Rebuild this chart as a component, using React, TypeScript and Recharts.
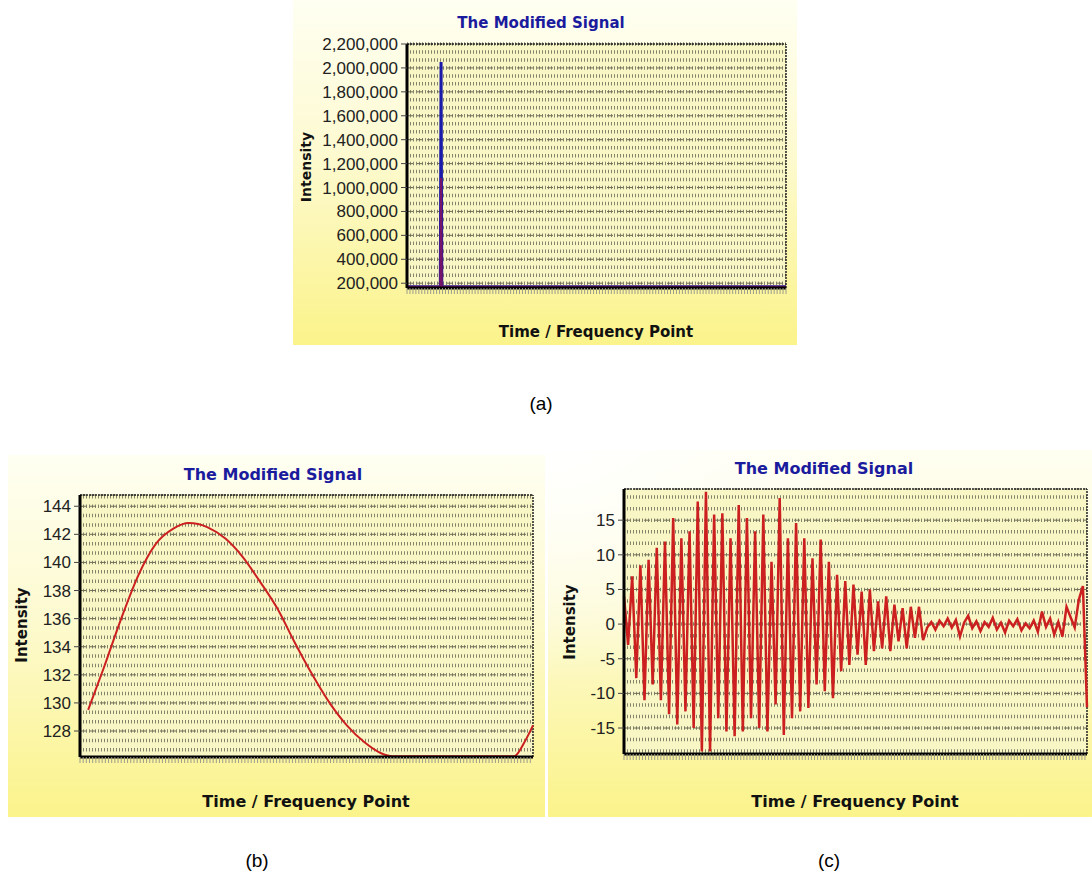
import React from "react";
import { LineChart, Line, XAxis, YAxis, CartesianGrid, ReferenceLine } from "recharts";

// (a) single spike near the start
const spikeX = [0, 45, 46, 47, 512];
const spikeBlue = [170000, 170000, 2050000, 170000, 170000];
const spikeRed = [170000, 170000, 1080000, 170000, 170000];
const ticksA = [200000, 400000, 600000, 800000, 1000000, 1200000, 1400000, 1600000, 1800000, 2000000, 2200000];

// (b) slow wave
const waveBX = [1.8, 5.2, 9.1, 12.9, 16.7, 20.6, 24.0, 28.2, 32.1, 35.9, 39.8, 43.6, 47.4, 51.3, 55.1, 58.9, 62.8, 66.6, 68.9, 80, 95.8, 98.1, 100];
const waveBY = [129.5, 132.45, 136.0, 139.1, 141.3, 142.4, 142.8, 142.5, 141.7, 140.4, 138.6, 136.7, 134.3, 132.0, 130.0, 128.4, 127.2, 126.4, 126.2, 126.2, 126.2, 127.2, 128.4];
const ticksB = [128, 130, 132, 134, 136, 138, 140, 142, 144];

// (c) fast oscillation, decaying to noise
const waveC = [
  4, -3,
  6.9, -7.8, 8.5, -11, 9.3, -8.7, 11, -11, 11.9, -13, 15.3, -14.5, 12.4, -12.6,
  13.4, -15, 17.7, -18.4, 19.1, -18.4, 15.8, -13.6, 16, -15.5, 12.4, -16.2,
  17.2, -15.5, 15.3, -13.6, 13.4, -15, 15.8, -15.5, 9, -11.6, 18.2, -16,
  12.4, -13.6, 14.6, -12.6, 12.4, -12.1, 9.5, -8.7, 12.2, -9.7, 9, -10.7,
  7.1, -6.8, 6.2, -5.9, 5.7, -4.4, 4.7, -5.9, 5, -3.9, 3.3, -3.5,
  4, -3.9, 2.8, -2.5, 2.3, -3.5, 2.5, -2, 2.5, -2.3,
  -0.5, 0.3, -0.8, 0.5, -0.3, 0.8, -0.5, 0.6, -1.8, 0.2, 1.2, -0.6, 0.4, -1,
  0.3, -0.4, 0.9, -0.8, 0.2, -1.2, 0.5, -0.3, 0.7, -0.9, 0.1, -0.6, 0.5, -1.1,
  1.8, -0.4, 0.8, -1.5, 0.3, -1.8, 2.5, 1.0, -0.5, 3.5, 5.5, -12,
];
const ticksC = [-15, -10, -5, 0, 5, 10, 15];

const dataA = spikeX.map((x, i) => ({ x, blue: spikeBlue[i], red: spikeRed[i] }));
const dataB = waveBX.map((x, i) => ({ x, v: waveBY[i] }));
const dataC = waveC.map((v, i) => ({ x: i, v }));

const TITLE_BLUE = "#1b1b9e";
const RED = "#cc2020";

function steps(from: number, to: number, step: number) {
  const out: number[] = [];
  for (let v = from; v <= to + 1e-9; v += step) out.push(v);
  return out;
}

// minor rows: three per major interval, lined up with the ticks
function rowGen(min: number, max: number, anchor: number, step: number) {
  let start = anchor;
  while (start - step >= min) start -= step;
  const rows = steps(start, max, step);
  return ({ offset }: any) =>
    rows.map((v) => offset.top + ((max - v) / (max - min)) * offset.height);
}

const tickStyle = { fontSize: 17, fill: "#222", fontFamily: "Liberation Sans, Arial, sans-serif" };
const titleStyle: React.CSSProperties = {
  position: "absolute",
  transform: "translate(-50%, -50%)",
  fontFamily: "DejaVu Sans, Verdana, sans-serif",
  fontWeight: "bold",
  color: TITLE_BLUE,
  whiteSpace: "nowrap",
};
const axisTitle: React.CSSProperties = {
  position: "absolute",
  fontFamily: "DejaVu Sans, Verdana, sans-serif",
  fontWeight: "bold",
  color: "#111",
  whiteSpace: "nowrap",
};
const panelBg = "linear-gradient(180deg, #fffff2 0%, #fdfad0 45%, #fbf38a 100%)";
const GRID_FILL = "#f9f6c6";
const GRID_ROW = "#84846a";

function Frame({ xMax, yMax }: { xMax: number; yMax: number }) {
  return (
    <>
      <ReferenceLine y={yMax} stroke="#222" strokeWidth={1.5} strokeDasharray="2 1" />
      <ReferenceLine x={xMax} stroke="#222" strokeWidth={1.5} strokeDasharray="2 1" />
    </>
  );
}

export default function App() {
  const minA = 160000, maxA = 2200000;
  const minB = 126.15, maxB = 144.8;
  const minC = -18.75, maxC = 19.5;

  return (
    <div style={{ position: "absolute", left: 0, top: 0, width: 1092, height: 887, background: "#fff", overflow: "hidden" }}>
      {/* (a) */}
      <div style={{ position: "absolute", left: 293, top: 0, width: 504, height: 345, background: panelBg }} />
      <div style={{ position: "absolute", left: 293, top: 0 }}>
        <LineChart width={504} height={345} data={dataA} margin={{ top: 44, right: 11, bottom: 49, left: 0 }}>
          <CartesianGrid
            vertical={false}
            fill={GRID_FILL}
            stroke={GRID_ROW}
            strokeWidth={3.5}
            strokeDasharray="1 2"
            horizontalCoordinatesGenerator={rowGen(minA, maxA, 200000, 200000 / 3)}
          />
          <CartesianGrid vertical={false} stroke="#6f6f5a" strokeDasharray="6 4" />
          <XAxis
            dataKey="x"
            type="number"
            domain={[0, 512]}
            ticks={steps(0, 512, 4)}
            interval={0}
            tickFormatter={() => ""}
            tickSize={6}
            tickLine={{ stroke: "#9c9c8c" }}
            axisLine={{ stroke: "#000", strokeWidth: 3 }}
            height={8}
          />
          <YAxis
            type="number"
            domain={[minA, maxA]}
            ticks={ticksA}
            interval={0}
            allowDataOverflow
            width={114}
            tickSize={6}
            tickMargin={3}
            tick={tickStyle}
            tickLine={{ stroke: "#444" }}
            axisLine={{ stroke: "#000", strokeWidth: 3 }}
            tickFormatter={(v: number) => v.toLocaleString("en-US")}
          />
          <Frame xMax={512} yMax={maxA} />
          <Line dataKey="blue" type="linear" stroke="#1a1aaa" strokeWidth={3} dot={false} isAnimationActive={false} />
          <Line dataKey="red" type="linear" stroke="#d0102a" strokeOpacity={0.5} strokeWidth={2} dot={false} isAnimationActive={false} />
        </LineChart>
      </div>
      <div style={{ ...titleStyle, left: 541, top: 23, fontSize: 15 }}>The Modified Signal</div>
      <div style={{ ...axisTitle, left: 306, top: 167, fontSize: 14, transform: "translate(-50%, -50%) rotate(-90deg)" }}>Intensity</div>
      <div style={{ ...axisTitle, left: 596, top: 332, fontSize: 15, transform: "translate(-50%, -50%)" }}>Time / Frequency Point</div>
      <div style={{ position: "absolute", left: 541, top: 404, transform: "translate(-50%, -50%)", fontSize: 19, fontFamily: "Liberation Sans, Arial, sans-serif" }}>(a)</div>

      {/* (b) */}
      <div style={{ position: "absolute", left: 8, top: 455, width: 537, height: 362, background: panelBg }} />
      <div style={{ position: "absolute", left: 8, top: 455 }}>
        <LineChart width={537} height={362} data={dataB} margin={{ top: 40, right: 12, bottom: 52, left: 0 }}>
          <CartesianGrid
            vertical={false}
            fill={GRID_FILL}
            stroke={GRID_ROW}
            strokeWidth={3.5}
            strokeDasharray="1 2"
            horizontalCoordinatesGenerator={rowGen(minB, maxB, 128, 2 / 3)}
          />
          <CartesianGrid vertical={false} stroke="#6f6f5a" strokeDasharray="6 4" />
          <XAxis
            dataKey="x"
            type="number"
            domain={[0, 100]}
            ticks={steps(0, 100, 0.7)}
            interval={0}
            tickFormatter={() => ""}
            tickSize={6}
            tickLine={{ stroke: "#9c9c8c" }}
            axisLine={{ stroke: "#000", strokeWidth: 3 }}
            height={8}
          />
          <YAxis
            type="number"
            domain={[minB, maxB]}
            ticks={ticksB}
            interval={0}
            allowDataOverflow
            width={72}
            tickSize={6}
            tickMargin={3}
            tick={tickStyle}
            tickLine={{ stroke: "#444" }}
            axisLine={{ stroke: "#000", strokeWidth: 3 }}
          />
          <Frame xMax={100} yMax={maxB} />
          <Line dataKey="v" type="monotone" stroke={RED} strokeWidth={2} dot={false} isAnimationActive={false} />
        </LineChart>
      </div>
      <div style={{ ...titleStyle, left: 273, top: 474, fontSize: 16 }}>The Modified Signal</div>
      <div style={{ ...axisTitle, left: 22, top: 625, fontSize: 15, transform: "translate(-50%, -50%) rotate(-90deg)" }}>Intensity</div>
      <div style={{ ...axisTitle, left: 306, top: 801, fontSize: 16, transform: "translate(-50%, -50%)" }}>Time / Frequency Point</div>
      <div style={{ position: "absolute", left: 257, top: 861, transform: "translate(-50%, -50%)", fontSize: 19, fontFamily: "Liberation Sans, Arial, sans-serif" }}>(b)</div>

      {/* (c) */}
      <div
        style={{
          position: "absolute",
          left: 548,
          top: 450,
          width: 544,
          height: 367,
          background: `radial-gradient(ellipse at 0% 0%, rgba(255,255,255,0.95) 0%, rgba(255,255,255,0) 45%), ${panelBg}`,
        }}
      />
      <div style={{ position: "absolute", left: 548, top: 450 }}>
        <LineChart width={544} height={367} data={dataC} margin={{ top: 39, right: 5, bottom: 55, left: 0 }}>
          <CartesianGrid
            vertical={false}
            fill={GRID_FILL}
            stroke={GRID_ROW}
            strokeWidth={3.5}
            strokeDasharray="1 2"
            horizontalCoordinatesGenerator={rowGen(minC, maxC, 0, 5 / 3)}
          />
          <CartesianGrid vertical={false} stroke="#6f6f5a" strokeDasharray="6 4" />
          <XAxis
            dataKey="x"
            type="number"
            domain={[0, 113]}
            ticks={steps(0, 113, 0.75)}
            interval={0}
            tickFormatter={() => ""}
            tickSize={6}
            tickLine={{ stroke: "#9c9c8c" }}
            axisLine={{ stroke: "#000", strokeWidth: 3 }}
            height={8}
          />
          <YAxis
            type="number"
            domain={[minC, maxC]}
            ticks={ticksC}
            interval={0}
            allowDataOverflow
            width={76}
            tickSize={6}
            tickMargin={3}
            tick={tickStyle}
            tickLine={{ stroke: "#444" }}
            axisLine={{ stroke: "#000", strokeWidth: 3 }}
          />
          <Frame xMax={113} yMax={maxC} />
          <Line dataKey="v" type="linear" stroke={RED} strokeWidth={2.5} dot={false} isAnimationActive={false} />
        </LineChart>
      </div>
      <div style={{ ...titleStyle, left: 824, top: 468, fontSize: 16 }}>The Modified Signal</div>
      <div style={{ ...axisTitle, left: 570, top: 622, fontSize: 15, transform: "translate(-50%, -50%) rotate(-90deg)" }}>Intensity</div>
      <div style={{ ...axisTitle, left: 855, top: 801, fontSize: 16, transform: "translate(-50%, -50%)" }}>Time / Frequency Point</div>
      <div style={{ position: "absolute", left: 829, top: 861, transform: "translate(-50%, -50%)", fontSize: 19, fontFamily: "Liberation Sans, Arial, sans-serif" }}>(c)</div>
    </div>
  );
}
